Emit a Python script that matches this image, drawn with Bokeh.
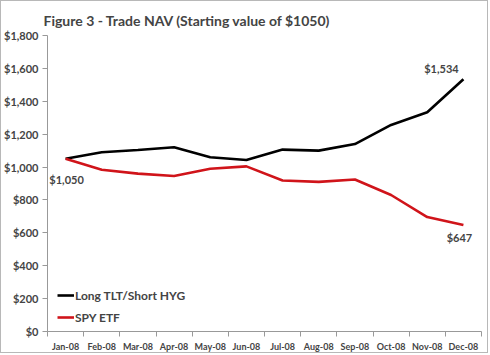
from bokeh.plotting import figure
from bokeh.models import FixedTicker, Label, Legend, LegendItem, NumeralTickFormatter, Range1d
from bokeh.embed import file_html
from bokeh.resources import INLINE

months = ["Jan-08", "Feb-08", "Mar-08", "Apr-08", "May-08", "Jun-08",
          "Jul-08", "Aug-08", "Sep-08", "Oct-08", "Nov-08", "Dec-08"]
tlt_hyg = [1050, 1090, 1104, 1120, 1060, 1043, 1106, 1100, 1140, 1256, 1333, 1534]
spy = [1050, 984, 960, 946, 990, 1004, 918, 910, 924, 830, 696, 647]
y_ticks = [0, 200, 400, 600, 800, 1000, 1200, 1400, 1600, 1800]

xs = [i + 0.5 for i in range(len(months))]
FONT = "Lato"

p = figure(width=488, height=353, output_backend="svg", toolbar_location=None,
           x_range=Range1d(0, len(months)), y_range=Range1d(0, 1800),
           min_border_left=43, min_border_right=8, min_border_top=34, min_border_bottom=19)
p.styles = {"border": "1px solid #b8b8b8"}
p.title.text = "Figure 3 - Trade NAV (Starting value of $1050)"
p.title.text_font = FONT
p.title.text_font_size = "14px"
p.title.text_font_style = "bold"
p.title.offset = -4
p.title.standoff = 14
p.outline_line_color = None
p.xgrid.grid_line_color = None
p.ygrid.grid_line_color = None

l1 = p.line(xs, tlt_hyg, line_color="black", line_width=2.6)
l2 = p.line(xs, spy, line_color="#d0141a", line_width=2.6)

xa = p.xaxis[0]
xa.ticker = FixedTicker(ticks=xs, minor_ticks=list(range(len(months) + 1)))
xa.major_label_overrides = {x: m for x, m in zip(xs, months)}
xa.major_tick_out = 0
xa.major_tick_in = 0
xa.minor_tick_out = 5
xa.minor_tick_in = 0
xa.minor_tick_line_color = "#999999"
xa.axis_line_color = "#999999"
xa.major_label_text_font = FONT
xa.major_label_text_font_size = "9px"
xa.major_label_text_font_style = "bold"
xa.major_label_standoff = 4

ya = p.yaxis[0]
ya.ticker = FixedTicker(ticks=y_ticks, minor_ticks=[])
ya.formatter = NumeralTickFormatter(format="$0,0")
ya.major_tick_out = 5
ya.major_tick_in = 0
ya.major_tick_line_color = "#999999"
ya.axis_line_color = "#999999"
ya.major_label_text_font = FONT
ya.major_label_text_font_size = "11px"
ya.major_label_text_font_style = "bold"
ya.major_label_standoff = 4

legend = Legend(items=[LegendItem(label="Long TLT/Short HYG", renderers=[l1]),
                       LegendItem(label="SPY ETF", renderers=[l2])],
                location=(10, 4), glyph_width=17, glyph_height=20, label_height=20,
                spacing=2, padding=2, label_standoff=1,
                background_fill_alpha=0, border_line_color=None,
                label_text_font=FONT, label_text_font_size="12px",
                label_text_font_style="bold")
p.add_layout(legend, "center")

lab_kw = dict(text_font=FONT, text_font_size="11px", text_font_style="bold")
p.add_layout(Label(x=xs[0], y=tlt_hyg[0], text="$1,050", text_align="center",
                   text_baseline="top", x_offset=1, y_offset=-14, **lab_kw))
p.add_layout(Label(x=xs[-1], y=tlt_hyg[-1], text="$1,534", text_align="center",
                   text_baseline="middle", x_offset=-22, y_offset=11, **lab_kw))
p.add_layout(Label(x=xs[-1], y=spy[-1], text="$647", text_align="center",
                   text_baseline="middle", x_offset=-4, y_offset=-12, **lab_kw))

open("out.html", "w").write(file_html(p, INLINE))
